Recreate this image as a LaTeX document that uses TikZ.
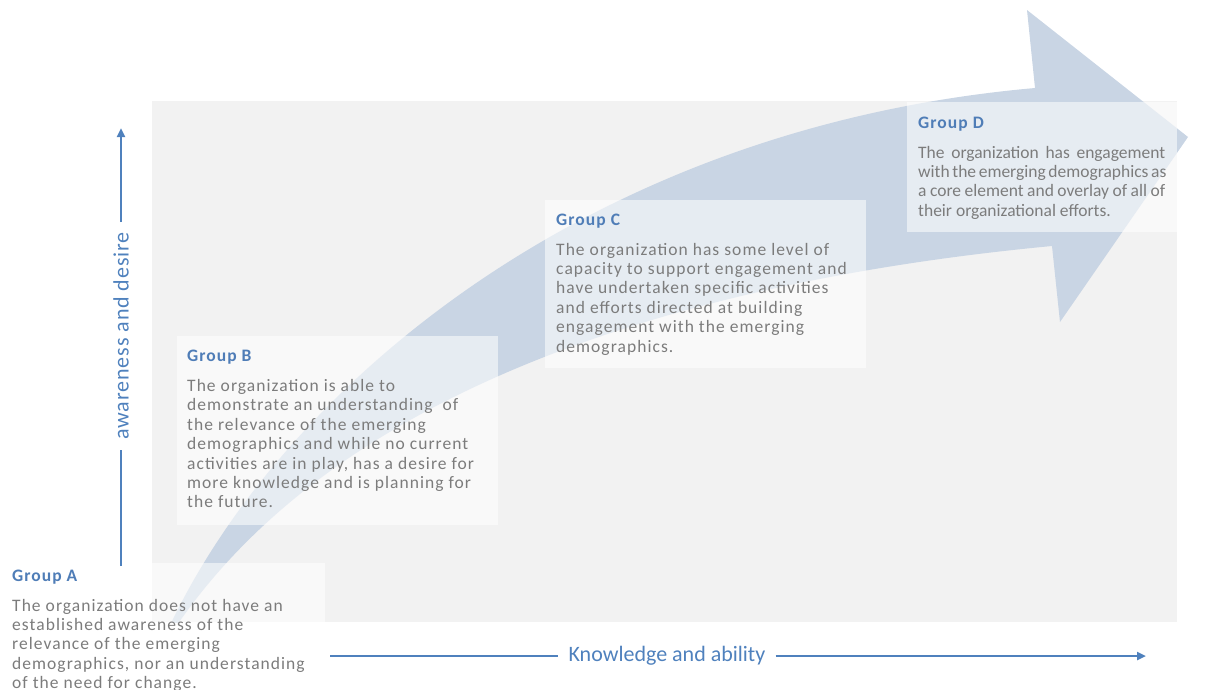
\documentclass[tikz,border=0pt]{standalone}
\usepackage{fontspec}
\setmainfont{Carlito}
\newfontfamily\bodyfont{Carlito}[LetterSpace=6]
\newfontfamily\tightfont{Carlito}
\newfontfamily\axisfont{Carlito}[LetterSpace=4]
\usetikzlibrary{arrows.meta}

\definecolor{bggray}{RGB}{242,242,242}
\definecolor{arrowblue}{RGB}{201,213,228}
\definecolor{axisblue}{RGB}{79,129,189}
\definecolor{titleblue}{RGB}{79,125,183}
\definecolor{bodygray}{RGB}{124,124,124}

\newcommand{\grouptext}[1]{\parbox[t]{400pt}{\raggedright #1}}
% one justified line of fixed width
\newcommand{\jline}[1]{\makebox[247pt][s]{#1}}

\begin{document}
\begin{tikzpicture}[x=1pt,y=-1pt,
  groupbox/.style={rectangle, draw=none, fill=white, fill opacity=0.55,
    inner sep=0pt, anchor=north west},
  grouptitle/.style={anchor=base west, inner sep=0pt, text=titleblue,
    font=\bodyfont\fontsize{17.5}{19.4}\selectfont\bfseries},
  groupbody/.style={anchor=base west, inner sep=0pt, text=bodygray,
    font=\bodyfont\fontsize{17.5}{19.4}\selectfont},
  axisline/.style={draw=axisblue, line width=2.5pt},
  axistip/.style={-{Triangle[length=9pt,width=8pt]}},
  axislabel/.style={text=axisblue, inner sep=10pt}]

\useasboundingbox (0,0) rectangle (1219,689);

% grey field
\fill[bggray] (152,101) rectangle (1177,622);

% big curved arrow, cut off at the bottom of the field
\begin{scope}
  \clip (0,0) rectangle (1219,622);
  \fill[arrowblue] (155,660) .. controls (250,420) and (560,130) .. (1035,88)
    -- (1027,10) -- (1188,137) -- (1060,322) -- (1052,246)
    .. controls (640,285) and (300,410) .. (155,660) -- cycle;
\end{scope}

% translucent panels
\node[groupbox, minimum width=325pt, minimum height=126pt] (boxA) at (0,563) {};
\node[groupbox, minimum width=321pt, minimum height=189pt] (boxB) at (177,336) {};
\node[groupbox, minimum width=321pt, minimum height=168pt] (boxC) at (545,200) {};
\node[groupbox, minimum width=270pt, minimum height=130pt] (boxD) at (907,102) {};

% Group A
\node[grouptitle] (titleA) at (12,581) {Group A};
\node[groupbody] (bodyA) at (12,611) {\grouptext{The organization does not have an\\
  established awareness of the\\
  relevance of the emerging\\
  demographics, nor an understanding\\
  of the need for change.}};

% Group B
\node[grouptitle] (titleB) at (187,361) {Group B};
\node[groupbody] (bodyB) at (187,391.5) {\grouptext{The organization is able to\\
  demonstrate an understanding\ \ of\\
  the relevance of the emerging\\
  demographics and while no current\\
  activities are in play, has a desire for\\
  more knowledge and is planning for\\
  the future.}};

% Group C
\node[grouptitle] (titleC) at (556,225) {Group C};
\node[groupbody] (bodyC) at (556,255) {\grouptext{The organization has some level of\\
  capacity to support engagement and\\
  have undertaken specific activities\\
  and efforts directed at building\\
  engagement with the emerging\\
  demographics.}};

% Group D (justified block)
\node[grouptitle] (titleD) at (918,128) {Group D};
\node[groupbody, font=\tightfont\fontsize{17.5}{19.4}\selectfont] (bodyD) at (918,158)
  {\grouptext{\jline{The organization has engagement}\\
  \jline{with the emerging demographics as}\\
  \jline{a core element and overlay of all of}\\
  their organizational efforts.}};

% vertical axis
\coordinate (yfoot) at (121,566);
\coordinate (yhead) at (121,128);
\node[axislabel, rotate=90, font=\axisfont\fontsize{22}{26}\selectfont] (ylab) at (121,336) {awareness and desire};
\draw[axisline] (yfoot) -- (ylab.west);
\draw[axisline, axistip] (ylab.east) -- (yhead);

% horizontal axis
\coordinate (xfoot) at (330,656);
\coordinate (xhead) at (1146,656);
\node[axislabel, font=\fontsize{22}{26}\selectfont] (xlab) at (667,656) {Knowledge and ability};
\draw[axisline] (xfoot) -- (xlab.west);
\draw[axisline, axistip] (xlab.east) -- (xhead);

\end{tikzpicture}
\end{document}
